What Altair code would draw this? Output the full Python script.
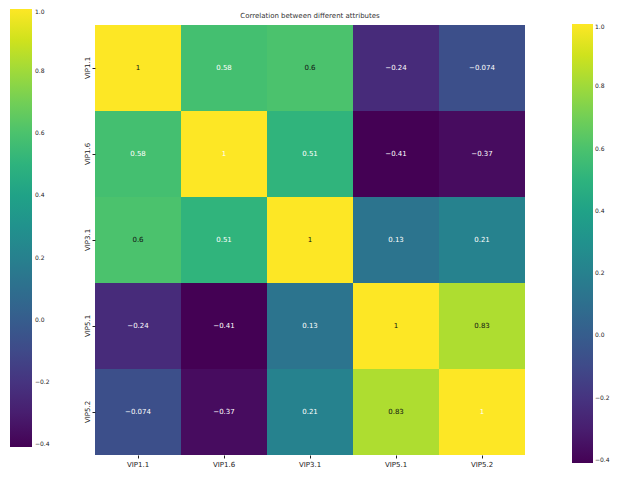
import altair as alt
import pandas as pd

names = ["VIP1.1", "VIP1.6", "VIP3.1", "VIP5.1", "VIP5.2"]
corr = [
    [1.0, 0.58, 0.6, -0.24, -0.074],
    [0.58, 1.0, 0.51, -0.41, -0.37],
    [0.6, 0.51, 1.0, 0.13, 0.21],
    [-0.24, -0.41, 0.13, 1.0, 0.83],
    [-0.074, -0.37, 0.21, 0.83, 1.0],
]
# text drawn dark (1) or light (0), as in the picture
dark_text = [
    [1, 0, 1, 0, 0],
    [0, 0, 0, 0, 0],
    [1, 0, 1, 0, 0],
    [0, 0, 0, 1, 1],
    [0, 0, 0, 1, 0],
]
cbar_ticks = [-0.4, -0.2, 0.0, 0.2, 0.4, 0.6, 0.8, 1.0]

recs = []
for i, r in enumerate(names):
    for j, c in enumerate(names):
        recs.append({"ry": r, "cx": c, "v": corr[i][j], "w": corr[i][j], "dk": dark_text[i][j]})
df = pd.DataFrame(recs)

FONT = "DejaVu Sans"
dom = [-0.41, 1.0]

xenc = alt.X("cx:N", sort=names, title=None,
             axis=alt.Axis(labelAngle=0, labelFontSize=7, labelFont=FONT, labelColor="#222",
                           domain=False, tickSize=3, tickColor="#222", labelPadding=2))
yenc = alt.Y("ry:N", sort=names, title=None,
             axis=alt.Axis(labelAngle=-90, labelFontSize=7, labelFont=FONT, labelColor="#222",
                           domain=False, tickSize=3, tickColor="#222", labelPadding=2))

def leg(x, y, length, thick, off):
    return alt.Legend(orient="none", legendX=x, legendY=y, direction="vertical", title=None,
                      values=cbar_ticks, format=".1f", gradientLength=length,
                      gradientThickness=thick, labelFontSize=6, labelFont=FONT,
                      labelColor="#222", gradientStrokeWidth=0, labelOffset=off)

heat = alt.Chart(df).mark_rect().encode(
    x=xenc, y=yenc,
    color=alt.Color("v:Q", scale=alt.Scale(scheme="viridis", domain=dom),
                    legend=leg(-85, -16, 438, 22, 3)),
)

ghost = alt.Chart(df).mark_rect(opacity=0).encode(
    x=xenc, y=yenc,
    color=alt.Color("w:Q", scale=alt.Scale(scheme="viridis", domain=dom),
                    legend=leg(477, -1, 439, 21, 2)),
)

text = alt.Chart(df).mark_text(fontSize=7, font=FONT).encode(
    x=xenc, y=yenc,
    text="v:Q",
    color=alt.condition("datum.dk == 1", alt.value("#111"), alt.value("white")),
)

chart = alt.layer(heat, ghost, text).resolve_scale(color="independent").properties(
    width=430, height=430,
    title=alt.TitleParams("Correlation between different attributes", fontSize=7, font=FONT,
                          fontWeight="normal", color="#333", offset=2, dy=12),
    autosize="none",
    padding={"left": 87, "top": 17, "right": 87, "bottom": 14},
).configure_view(stroke=None)

chart.save("out.html", embed_options={"renderer": "svg", "actions": False})
